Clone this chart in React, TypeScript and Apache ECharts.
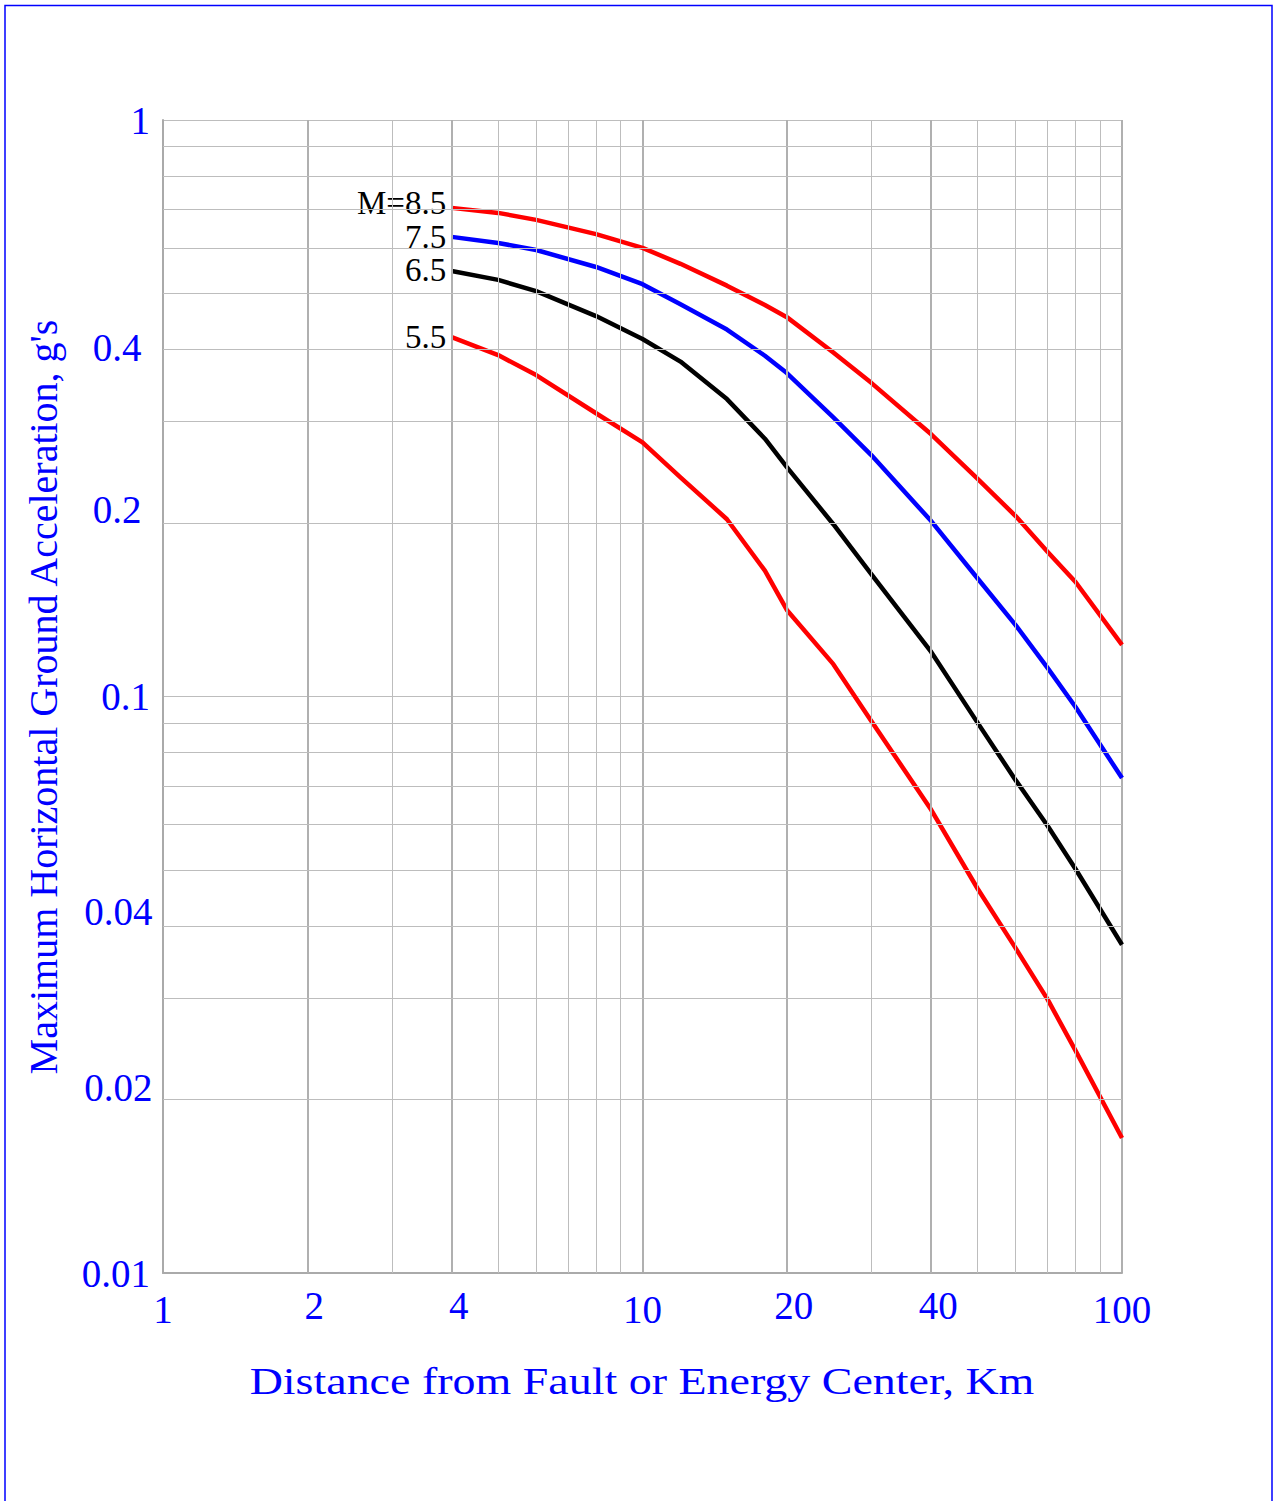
import React, { useEffect, useRef } from "react";
import * as echarts from "echarts";

// ---- data ----
const distances = [4, 5, 6, 8, 10, 12, 15, 18, 20, 25, 30, 40, 50, 60, 70, 80, 100];
const m85 = [0.704, 0.69, 0.671, 0.634, 0.6, 0.563, 0.516, 0.4776, 0.455, 0.395, 0.35, 0.285, 0.2384, 0.2056, 0.1781, 0.158, 0.1229];
const m75 = [0.627, 0.612, 0.595, 0.556, 0.519, 0.479, 0.433, 0.39, 0.364, 0.305, 0.2623, 0.2015, 0.1602, 0.133, 0.112, 0.0959, 0.0722];
const m65 = [0.547, 0.528, 0.505, 0.457, 0.417, 0.381, 0.328, 0.28, 0.25, 0.199, 0.1631, 0.1195, 0.09, 0.0716, 0.0596, 0.0502, 0.0371];
const m55 = [0.42, 0.391, 0.361, 0.31, 0.276, 0.24, 0.203, 0.1653, 0.1413, 0.1138, 0.0907, 0.0636, 0.0464, 0.0366, 0.0298, 0.0243, 0.01715];
const curveLabels = ["M=8.5", "7.5", "6.5", "5.5"];

const xMinorTickLabels = [2, 4, 20, 40];
const yMinorTickLabels = [0.4, 0.2, 0.04, 0.02];
const xGridValues = [2, 3, 4, 5, 6, 7, 8, 9, 20, 30, 40, 50, 60, 70, 80, 90];
const yGridValues = [0.02, 0.03, 0.04, 0.05, 0.06, 0.07, 0.08, 0.09, 0.2, 0.3, 0.4, 0.5, 0.6, 0.7, 0.8, 0.9];
const xStrongGrid = [2, 4, 20, 40];

const xTitle = "Distance from Fault or Energy Center, Km";
const yTitle = "Maximum Horizontal Ground Acceleration, g's";

// ---- styles ----
const curveColors = ["#ff0000", "#0000ff", "#000000", "#ff0000"];
const curveLabelOffsets: [number, number][] = [[0, -5], [0, 0], [0, -1], [0, 0]];
const yMinorLabelOffsets: Record<string, [number, number]> = {
  "0.4": [-8, -2],
  "0.2": [-8, -13],
  "0.04": [3, -14],
  "0.02": [3, -12],
};
const SERIF = "'Liberation Serif', 'Times New Roman', serif";
const BLUE = "#0000ff";
const GRID = "#bdbdbd";
const TICK_FONT = 39;

export default function App() {
  const ref = useRef<HTMLDivElement>(null);

  useEffect(() => {
    if (!ref.current) return;
    const chart = echarts.init(ref.current, undefined, { renderer: "svg" });
    const curves = [m85, m75, m65, m55];

    const series: any[] = [];

    // grid lines via markLine
    series.push({
      type: "line",
      data: [[1, 0.01]],
      symbol: "none",
      silent: true,
      z: 1,
      lineStyle: { opacity: 0 },
      markLine: {
        silent: true,
        symbol: ["none", "none"],
        label: { show: false },
        animation: false,
        data: [
          ...xGridValues.map((v) => ({
            xAxis: v,
            lineStyle: {
              color: xStrongGrid.includes(v) ? "#b0b0b0" : GRID,
              width: xStrongGrid.includes(v) ? 2 : 1,
              type: "solid",
            },
          })),
          ...yGridValues.map((v) => ({
            yAxis: v,
            lineStyle: { color: GRID, width: 1, type: "solid" },
          })),
        ],
      },
    });

    curves.forEach((vals, i) => {
      series.push({
        type: "line",
        name: curveLabels[i],
        data: distances.map((d, j) => [d, vals[j]]),
        symbol: "none",
        smooth: false,
        z: 3,
        lineStyle: { color: curveColors[i], width: 4.5, join: "round" },
        itemStyle: { color: curveColors[i] },
      });
    });

    const plainLabel = {
      opacity: 1,
      textBorderWidth: 0,
      textShadowBlur: 0,
      fontFamily: SERIF,
    };

    // curve labels at the start of each curve
    series.push({
      type: "scatter",
      z: 4,
      symbolSize: 1,
      itemStyle: { color: "rgba(0,0,0,0)", opacity: 1 },
      data: curves.map((vals, i) => ({
        value: [distances[0], vals[0]],
        label: {
          ...plainLabel,
          show: true,
          formatter: curveLabels[i],
          position: "left",
          distance: 5,
          offset: curveLabelOffsets[i],
          color: "#000",
          fontSize: 33,
          lineHeight: 30,
        },
      })),
    });

    // minor x tick labels
    series.push({
      type: "scatter",
      z: 4,
      symbolSize: 1,
      itemStyle: { color: "rgba(0,0,0,0)", opacity: 1 },
      data: xMinorTickLabels.map((v) => [v, 0.01]),
      label: {
        ...plainLabel,
        show: true,
        position: "bottom",
        distance: 12,
        offset: [7, 0],
        formatter: (p: any) => String(p.value[0]),
        color: BLUE,
        fontSize: TICK_FONT,
      },
    });

    // minor y tick labels
    series.push({
      type: "scatter",
      z: 4,
      symbolSize: 1,
      itemStyle: { color: "rgba(0,0,0,0)", opacity: 1 },
      data: yMinorTickLabels.map((v) => ({
        value: [1, v],
        label: { offset: yMinorLabelOffsets[String(v)] },
      })),
      label: {
        ...plainLabel,
        show: true,
        position: "left",
        distance: 13,
        formatter: (p: any) => String(p.value[1]),
        color: BLUE,
        fontSize: TICK_FONT,
      },
    });

    chart.setOption({
      animation: false,
      backgroundColor: "#ffffff",
      grid: {
        left: 163,
        top: 120,
        right: 1276 - 1122,
        bottom: 1501 - 1273,
        containLabel: false,
        outerBoundsMode: "none",
      },
      xAxis: {
        type: "log",
        logBase: 10,
        min: 1,
        max: 100,
        axisLine: { show: true, lineStyle: { color: "#aaaaaa", width: 2 } },
        axisTick: { show: false },
        splitLine: { show: true, lineStyle: { color: "#b0b0b0", width: 2 } },
        axisLabel: {
          color: BLUE,
          fontFamily: SERIF,
          fontSize: TICK_FONT,
          margin: 17,
          formatter: (v: number) => String(v),
        },
      },
      yAxis: {
        type: "log",
        logBase: 10,
        min: 0.01,
        max: 1,
        axisLine: { show: true, lineStyle: { color: "#aaaaaa", width: 2 } },
        axisTick: { show: false },
        splitLine: { show: true, lineStyle: { color: GRID, width: 1 } },
        axisLabel: {
          color: BLUE,
          fontFamily: SERIF,
          fontSize: TICK_FONT,
          margin: 13,
          formatter: (v: number) => String(v),
        },
      },
      graphic: [
        {
          type: "rect",
          silent: true,
          shape: { x: 5, y: 5.5, width: 1267, height: 1600 },
          style: { fill: "none", stroke: BLUE, lineWidth: 1.5 },
        },
        {
          type: "text",
          x: 642,
          y: 1381,
          scaleX: 1.21,
          style: {
            text: xTitle,
            fill: BLUE,
            font: `38px ${SERIF}`,
            align: "center",
            verticalAlign: "middle",
          },
        },
        {
          type: "text",
          x: 43,
          y: 697,
          rotation: Math.PI / 2,
          style: {
            text: yTitle,
            fill: BLUE,
            font: `40px ${SERIF}`,
            align: "center",
            verticalAlign: "middle",
          },
        },
      ],
      series,
    });

    return () => chart.dispose();
  }, []);

  return (
    <div
      ref={ref}
      style={{ position: "absolute", left: 0, top: 0, width: 1276, height: 1501 }}
    />
  );
}
